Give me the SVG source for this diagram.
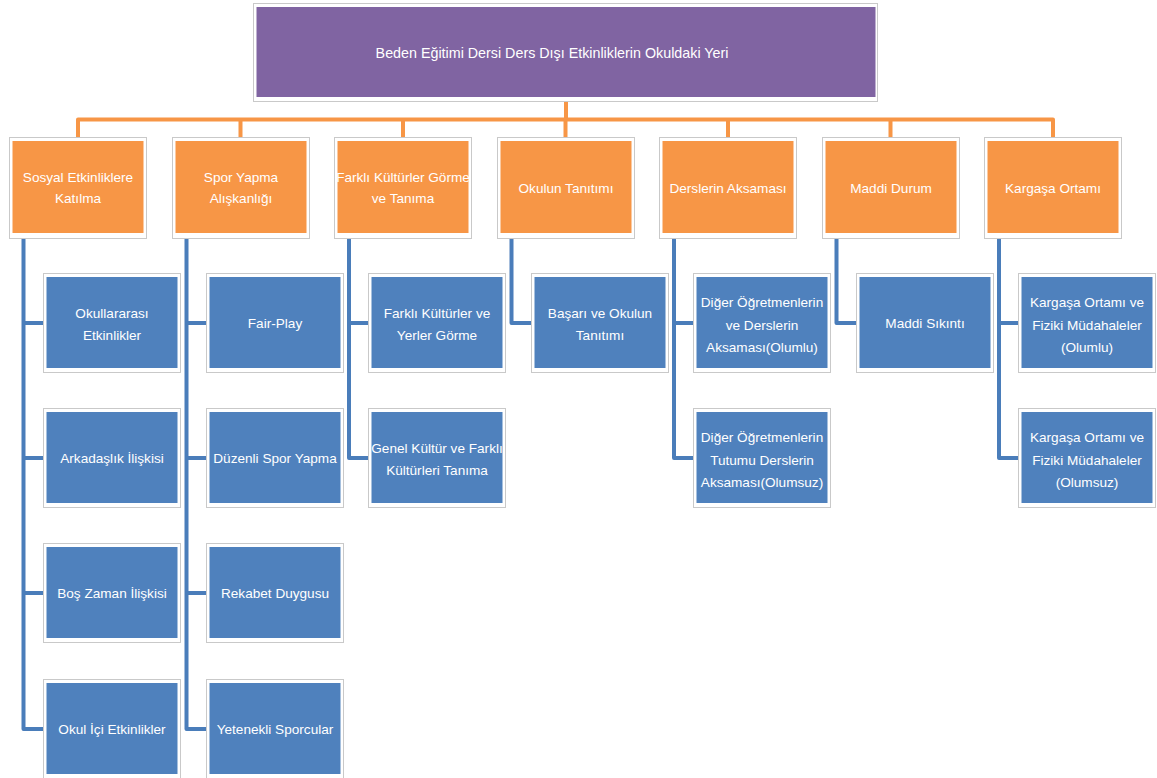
<svg xmlns="http://www.w3.org/2000/svg" width="1157" height="778" viewBox="0 0 1157 778">
<style>
.frame{fill:#ffffff;stroke:#c9c9c9;stroke-width:1}
.purple{fill:#8064a2}
.orange{fill:#f79646}
.blue{fill:#4f81bd}
text{font-family:"Liberation Sans",Arial,sans-serif;fill:#ffffff;text-anchor:middle}
.t0{font-size:14.3px}
.t1{font-size:13.6px}
.t2{font-size:13.6px}
.oc{fill:none;stroke:#f79646;stroke-width:4;stroke-linejoin:round}
.bc{fill:none;stroke:#4a7dba;stroke-width:4;stroke-linejoin:round}
</style>
<rect width="1157" height="778" fill="#ffffff"/>
<g id="connectors">
<path class="oc" d="M566 101V119.5M78 137V119.5H1053V137M240.5 119.5V137M403 119.5V137M565.5 119.5V137M728 119.5V137M890.5 119.5V137"/>
<path class="bc" d="M23.5 238V729H43M23.5 323H43M23.5 458H43M23.5 593H43"/>
<path class="bc" d="M186.5 238V729H206M186.5 323H206M186.5 458H206M186.5 593H206"/>
<path class="bc" d="M349 238V458H369M349 323H369"/>
<path class="bc" d="M511.5 238V323H531"/>
<path class="bc" d="M674 238V458H694M674 323H694"/>
<path class="bc" d="M836.5 238V323H856"/>
<path class="bc" d="M999 238V458H1019M999 323H1019"/>
</g>
<g id="root">
<rect class="frame" x="253.5" y="3.5" width="624" height="98"/>
<rect class="purple" x="256.5" y="7" width="619" height="90"/>
<text class="t0" x="552" y="58">Beden Eğitimi Dersi Ders Dışı Etkinliklerin Okuldaki Yeri</text>
</g>
<g id="n1">
<rect class="frame" x="9.5" y="137.5" width="137" height="101"/>
<rect class="orange" x="12.5" y="141" width="131" height="92"/>
<text class="t1" x="78" y="182">Sosyal Etkinliklere</text>
<text class="t1" x="78" y="203">Katılma</text>
</g>
<g id="n2">
<rect class="frame" x="172.5" y="137.5" width="137" height="101"/>
<rect class="orange" x="175.5" y="141" width="131" height="92"/>
<text class="t1" x="241" y="182">Spor Yapma</text>
<text class="t1" x="241" y="203">Alışkanlığı</text>
</g>
<g id="n3">
<rect class="frame" x="334.5" y="137.5" width="137" height="101"/>
<rect class="orange" x="337.5" y="141" width="131" height="92"/>
<text class="t1" x="403" y="182">Farklı Kültürler Görme</text>
<text class="t1" x="403" y="203">ve Tanıma</text>
</g>
<g id="n4">
<rect class="frame" x="497.5" y="137.5" width="137" height="101"/>
<rect class="orange" x="500.5" y="141" width="131" height="92"/>
<text class="t1" x="566" y="193">Okulun Tanıtımı</text>
</g>
<g id="n5">
<rect class="frame" x="659.5" y="137.5" width="137" height="101"/>
<rect class="orange" x="662.5" y="141" width="131" height="92"/>
<text class="t1" x="728" y="193">Derslerin Aksaması</text>
</g>
<g id="n6">
<rect class="frame" x="822.5" y="137.5" width="137" height="101"/>
<rect class="orange" x="825.5" y="141" width="131" height="92"/>
<text class="t1" x="891" y="193">Maddi Durum</text>
</g>
<g id="n7">
<rect class="frame" x="984.5" y="137.5" width="137" height="101"/>
<rect class="orange" x="987.5" y="141" width="131" height="92"/>
<text class="t1" x="1053" y="193">Kargaşa Ortamı</text>
</g>
<g id="c1a">
<rect class="frame" x="43.5" y="273.5" width="137" height="99"/>
<rect class="blue" x="46.5" y="277" width="131" height="91"/>
<text class="t2" x="112" y="318">Okullararası</text>
<text class="t2" x="112" y="340">Etkinlikler</text>
</g>
<g id="c1b">
<rect class="frame" x="43.5" y="408.5" width="137" height="99"/>
<rect class="blue" x="46.5" y="412" width="131" height="91"/>
<text class="t2" x="112" y="463">Arkadaşlık İlişkisi</text>
</g>
<g id="c1c">
<rect class="frame" x="43.5" y="543.5" width="137" height="99"/>
<rect class="blue" x="46.5" y="547" width="131" height="91"/>
<text class="t2" x="112" y="598">Boş Zaman İlişkisi</text>
</g>
<g id="c1d">
<rect class="frame" x="43.5" y="679.5" width="137" height="99"/>
<rect class="blue" x="46.5" y="683" width="131" height="91"/>
<text class="t2" x="112" y="734">Okul İçi Etkinlikler</text>
</g>
<g id="c2a">
<rect class="frame" x="206.5" y="273.5" width="137" height="99"/>
<rect class="blue" x="209.5" y="277" width="131" height="91"/>
<text class="t2" x="275" y="328">Fair-Play</text>
</g>
<g id="c2b">
<rect class="frame" x="206.5" y="408.5" width="137" height="99"/>
<rect class="blue" x="209.5" y="412" width="131" height="91"/>
<text class="t2" x="275" y="463">Düzenli Spor Yapma</text>
</g>
<g id="c2c">
<rect class="frame" x="206.5" y="543.5" width="137" height="99"/>
<rect class="blue" x="209.5" y="547" width="131" height="91"/>
<text class="t2" x="275" y="598">Rekabet Duygusu</text>
</g>
<g id="c2d">
<rect class="frame" x="206.5" y="679.5" width="137" height="99"/>
<rect class="blue" x="209.5" y="683" width="131" height="91"/>
<text class="t2" x="275" y="734">Yetenekli Sporcular</text>
</g>
<g id="c3a">
<rect class="frame" x="368.5" y="273.5" width="137" height="99"/>
<rect class="blue" x="371.5" y="277" width="131" height="91"/>
<text class="t2" x="437" y="318">Farklı Kültürler ve</text>
<text class="t2" x="437" y="340">Yerler Görme</text>
</g>
<g id="c3b">
<rect class="frame" x="368.5" y="408.5" width="137" height="99"/>
<rect class="blue" x="371.5" y="412" width="131" height="91"/>
<text class="t2" x="437" y="453">Genel Kültür ve Farklı</text>
<text class="t2" x="437" y="475">Kültürleri Tanıma</text>
</g>
<g id="c4a">
<rect class="frame" x="531.5" y="273.5" width="137" height="99"/>
<rect class="blue" x="534.5" y="277" width="131" height="91"/>
<text class="t2" x="600" y="318">Başarı ve Okulun</text>
<text class="t2" x="600" y="340">Tanıtımı</text>
</g>
<g id="c5a">
<rect class="frame" x="693.5" y="273.5" width="137" height="99"/>
<rect class="blue" x="696.5" y="277" width="131" height="91"/>
<text class="t2" x="762" y="307">Diğer Öğretmenlerin</text>
<text class="t2" x="762" y="329.5">ve Derslerin</text>
<text class="t2" x="762" y="352">Aksaması(Olumlu)</text>
</g>
<g id="c5b">
<rect class="frame" x="693.5" y="408.5" width="137" height="99"/>
<rect class="blue" x="696.5" y="412" width="131" height="91"/>
<text class="t2" x="762" y="442">Diğer Öğretmenlerin</text>
<text class="t2" x="762" y="464.5">Tutumu Derslerin</text>
<text class="t2" x="762" y="487">Aksaması(Olumsuz)</text>
</g>
<g id="c6a">
<rect class="frame" x="856.5" y="273.5" width="137" height="99"/>
<rect class="blue" x="859.5" y="277" width="131" height="91"/>
<text class="t2" x="925" y="328">Maddi Sıkıntı</text>
</g>
<g id="c7a">
<rect class="frame" x="1018.5" y="273.5" width="137" height="99"/>
<rect class="blue" x="1021.5" y="277" width="131" height="91"/>
<text class="t2" x="1087" y="307">Kargaşa Ortamı ve</text>
<text class="t2" x="1087" y="329.5">Fiziki Müdahaleler</text>
<text class="t2" x="1087" y="352">(Olumlu)</text>
</g>
<g id="c7b">
<rect class="frame" x="1018.5" y="408.5" width="137" height="99"/>
<rect class="blue" x="1021.5" y="412" width="131" height="91"/>
<text class="t2" x="1087" y="442">Kargaşa Ortamı ve</text>
<text class="t2" x="1087" y="464.5">Fiziki Müdahaleler</text>
<text class="t2" x="1087" y="487">(Olumsuz)</text>
</g>
</svg>
